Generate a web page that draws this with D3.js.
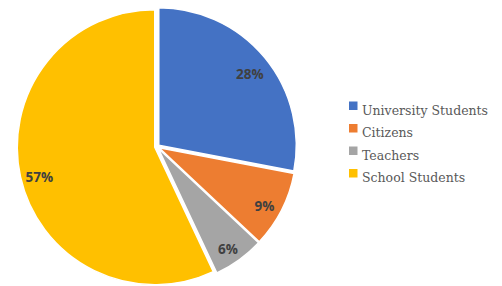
<!doctype html>
<html lang="en">
<head>
    <meta charset="utf-8">
    <title>Pie chart</title>
    <script src="https://cdn.jsdelivr.net/npm/d3@7"></script>
    <style>
        body { margin: 0; background: #ffffff; }
        svg { display: block; }
        .label { font-family: "Open Sans", sans-serif; font-weight: bold; font-size: 13.5px; fill: #404040; }
        .legend text { font-family: "DejaVu Serif", serif; font-size: 12.5px; fill: #595959; }
    </style>
</head>
<body>
    <svg width="502" height="286"></svg>
    <script>
        var categories = ["University Students", "Citizens", "Teachers", "School Students"];
        var values = [28, 9, 6, 57];
        var colors = ["#4472C4", "#ED7D31", "#A5A5A5", "#FFC000"];

        var svg = d3.select("svg");
        var cx = 157, cy = 146.7, radius = 137.5, explode = 2.3;

        var z = d3.scaleOrdinal().domain(categories).range(colors);

        var pie = d3.pie().sort(null).value(function (d) { return d.value; });
        var arc = d3.arc().innerRadius(0).outerRadius(radius);
        var labelArc = d3.arc().innerRadius(radius * 0.86).outerRadius(radius * 0.86);

        var rows = categories.map(function (c, i) { return { name: c, value: values[i] }; });
        var arcs = pie(rows);

        function offset(d) {
            var mid = (d.startAngle + d.endAngle) / 2;
            return [explode * Math.sin(mid), -explode * Math.cos(mid)];
        }

        var g = svg.append("g").attr("transform", "translate(" + cx + "," + cy + ")");

        // slices
        var slice = g.selectAll("g.slice")
            .data(arcs)
            .enter()
            .append("g")
            .attr("class", "slice")
            .attr("transform", function (d) { var o = offset(d); return "translate(" + o[0] + "," + o[1] + ")"; });

        slice.append("path")
            .attr("d", arc)
            .attr("fill", function (d) { return z(d.data.name); })
            .attr("stroke", "#ffffff")
            .attr("stroke-width", 1.5)
            .attr("stroke-linejoin", "round");

        // percentage labels
        slice.append("text")
            .attr("class", "label")
            .attr("transform", function (d) { return "translate(" + labelArc.centroid(d) + ")"; })
            .attr("text-anchor", "middle")
            .attr("dy", "0.7em")
            .text(function (d) { return d.data.value + "%"; });

        // legend
        var legend = svg.append("g")
            .attr("class", "legend")
            .attr("transform", "translate(349,114.5)")
            .selectAll("g")
            .data(categories)
            .enter()
            .append("g")
            .attr("transform", function (d, i) { return "translate(0," + i * 22.5 + ")"; });

        legend.append("rect")
            .attr("x", 0)
            .attr("y", -13)
            .attr("width", 8.5)
            .attr("height", 8.5)
            .attr("fill", function (d) { return z(d); });

        legend.append("text")
            .attr("x", 13)
            .attr("y", 0)
            .text(function (d) { return d; });
    </script>
</body>
</html>
